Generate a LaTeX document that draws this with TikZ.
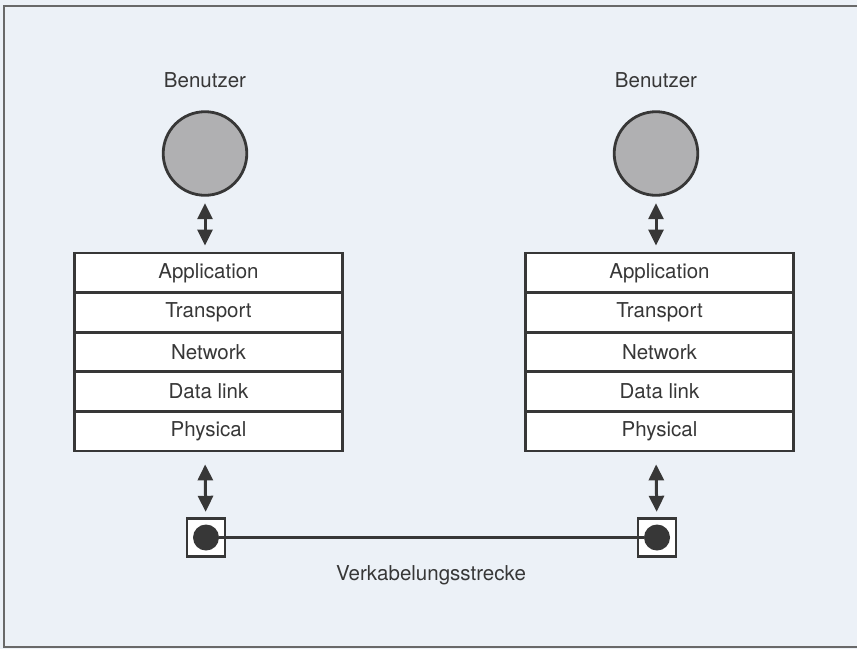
\documentclass[tikz,border=0pt]{standalone}
\usepackage{fontspec}
\setmainfont{TeX Gyre Heros}
\usetikzlibrary{arrows.meta,positioning}

\definecolor{paper}{RGB}{236,241,247}
\definecolor{ink}{RGB}{55,55,55}
\definecolor{userfill}{RGB}{176,176,178}
\definecolor{framegray}{RGB}{105,105,105}

\tikzset{
  layer/.style={draw=ink, line width=2.8pt, fill=white, minimum width=268pt,
    minimum height=39.6pt, inner sep=0pt, font=\fontsize{20.5}{24}\selectfont, text=ink},
  user/.style={circle, draw=ink, line width=2.8pt, fill=userfill, minimum size=83.6pt, inner sep=0pt},
  jack/.style={draw=ink, line width=2.4pt, fill=white, minimum size=38pt, inner sep=0pt},
  dot/.style={circle, fill=ink, minimum size=26pt, inner sep=0pt},
  biarrow/.style={{Triangle[width=15pt,length=16pt]}-{Triangle[width=15pt,length=16pt]},
    draw=ink, line width=3pt},
  plain/.style={font=\fontsize{20.5}{24}\selectfont, text=ink}
}

\begin{document}
\begin{tikzpicture}[x=1pt,y=-1pt]
    \useasboundingbox (0,0) rectangle (857,649);
    \fill[paper] (0,0) rectangle (857,649);

    % Frame (right side runs off the page)
    \draw[framegray, line width=2.6pt] (870,6) -- (4,6) -- (4,647) -- (870,647);

    % Two end systems
    \foreach \side/\sx/\ux in {L/208.5/205, R/659.5/656} {
        \node[plain] (benutzer\side) at (\ux,80) {Benutzer};
        \node[user] (user\side) at (\ux,153.5) {};

        % Layer stack
        \foreach \k/\lay/\txt in {0/app/Application, 1/tra/Transport, 2/net/Network,
                                  3/dat/Data link, 4/phy/Physical}
            \node[layer] (\lay\side) at (\sx,272.8+39.6*\k) {\txt};

        % Cable socket
        \node[jack] (jack\side) at (\ux+1,537.5) {};
        \node[dot] (dot\side) at (jack\side) {};

        % Arrows
        \draw[biarrow, shorten <=6.5pt, shorten >=6pt] (user\side) -- (user\side |- app\side.north);
        \draw[biarrow, shorten <=12pt, shorten >=5.5pt] (phy\side.south -| user\side) -- (jack\side);
    }

    % Cable
    \draw[ink, line width=2.2pt] (dotL) -- (dotR);
    \node[plain] (strecke) at (431,575) {Verkabelungsstrecke};
\end{tikzpicture}
\end{document}
